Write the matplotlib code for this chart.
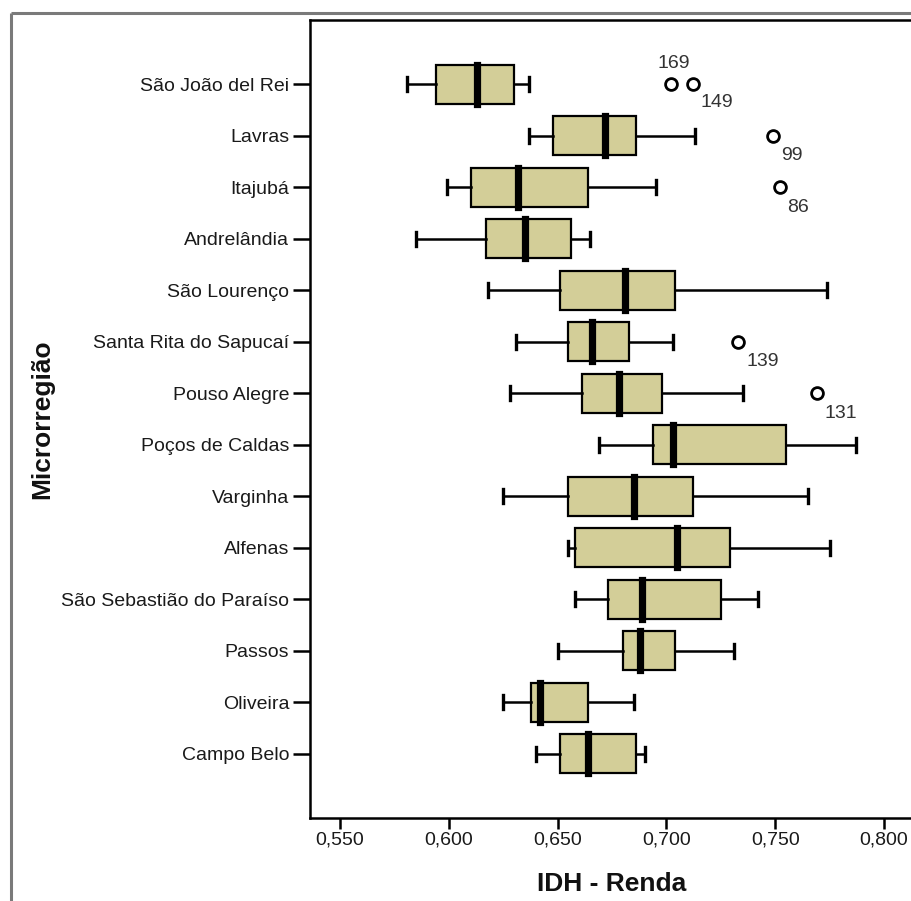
import matplotlib
matplotlib.use("Agg")
import matplotlib.pyplot as plt
from matplotlib.lines import Line2D

plt.rcParams['font.family'] = ['Liberation Sans', 'DejaVu Sans']

# ---- data ----
categories = ["São João del Rei", "Lavras", "Itajubá", "Andrelândia", "São Lourenço",
              "Santa Rita do Sapucaí", "Pouso Alegre", "Poços de Caldas", "Varginha",
              "Alfenas", "São Sebastião do Paraíso", "Passos", "Oliveira", "Campo Belo"]
whisker_low = [0.581, 0.637, 0.599, 0.585, 0.618, 0.631, 0.628, 0.669, 0.625,
               0.655, 0.658, 0.650, 0.625, 0.640]
q1 = [0.594, 0.648, 0.610, 0.617, 0.651, 0.655, 0.661, 0.694, 0.655,
      0.658, 0.673, 0.680, 0.638, 0.651]
median = [0.613, 0.672, 0.632, 0.635, 0.681, 0.666, 0.678, 0.703, 0.685,
          0.705, 0.689, 0.688, 0.642, 0.664]
q3 = [0.630, 0.686, 0.664, 0.656, 0.704, 0.683, 0.698, 0.755, 0.712,
      0.729, 0.725, 0.704, 0.664, 0.686]
whisker_high = [0.637, 0.713, 0.695, 0.665, 0.774, 0.703, 0.735, 0.787, 0.765,
                0.775, 0.742, 0.731, 0.685, 0.690]
# outliers: (category index, value, case label)
outlier_cat = [0, 0, 1, 2, 5, 6]
outlier_val = [0.702, 0.712, 0.749, 0.752, 0.733, 0.769]
outlier_lab = ["169", "149", "99", "86", "139", "131"]

xticks = [0.550, 0.600, 0.650, 0.700, 0.750, 0.800]
xtick_labels = ["0,550", "0,600", "0,650", "0,700", "0,750", "0,800"]

# ---- figure ----
W, H = 911, 901
fig = plt.figure(figsize=(W / 100, H / 100), dpi=100)
fig.patch.set_facecolor('white')

ax_left, ax_right, ax_top, ax_bottom = 310, 930, 20, 818
ax = fig.add_axes([ax_left / W, (H - ax_bottom) / H,
                   (ax_right - ax_left) / W, (ax_bottom - ax_top) / H])

positions = list(range(1, len(categories) + 1))
stats = []
for i in range(len(categories)):
    fl = [v for c, v in zip(outlier_cat, outlier_val) if c == i]
    stats.append(dict(med=median[i], q1=q1[i], q3=q3[i],
                      whislo=whisker_low[i], whishi=whisker_high[i], fliers=fl))

ax.bxp(stats, positions=positions, widths=0.76, orientation='horizontal',
       patch_artist=True, capwidths=0.27,
       boxprops=dict(facecolor='#d3ce98', edgecolor='black', linewidth=1.6),
       medianprops=dict(color='black', linewidth=5.2, solid_capstyle='projecting'),
       whiskerprops=dict(color='black', linewidth=1.8),
       capprops=dict(color='black', linewidth=2.4),
       flierprops=dict(marker='o', markerfacecolor='none', markeredgecolor='black',
                       markersize=8.5, markeredgewidth=2.0))

# outlier case labels
for c, v, lab in zip(outlier_cat, outlier_val, outlier_lab):
    y = positions[c]
    if lab == "169":
        ax.annotate(lab, (v, y), xytext=(3, 21), textcoords='offset pixels',
                    ha='center', va='center', fontsize=14, color='#333333')
    else:
        dy = -18 if lab == "149" else -20
        ax.annotate(lab, (v, y), xytext=(8, dy), textcoords='offset pixels',
                    ha='left', va='center', fontsize=14, color='#333333')

ax.set_xlim(0.55 - 30 / 2176, 0.55 - 30 / 2176 + 620 / 2176)
ax.set_ylim(15.25, -0.25)
ax.set_yticks(positions)
ax.set_yticklabels(categories)
ax.set_xticks(xticks)
ax.set_xticklabels(xtick_labels)

ax.tick_params(axis='y', length=12, width=1.8, pad=3, labelsize=14,
               labelcolor='#1a1a1a', color='black')
ax.tick_params(axis='x', length=8, width=1.8, pad=2, labelsize=14,
               labelcolor='#1a1a1a', color='black')
for s in ax.spines.values():
    s.set_linewidth(1.8)
    s.set_color('black')

ax.set_xlabel("IDH - Renda", fontsize=19, fontweight='bold', color='#111111')
ax.xaxis.set_label_coords((612 - ax_left) / (ax_right - ax_left),
                          -(872 - ax_bottom) / (ax_bottom - ax_top))
ax.set_ylabel("Microrregião", fontsize=19, fontweight='bold', color='#111111')
ax.yaxis.set_label_coords(-(ax_left - 54) / (ax_right - ax_left), 0.5)

# outer gray frame
fig.add_artist(Line2D([11 / W, 11 / W], [0, 1 - 13 / H], transform=fig.transFigure,
                      color='#7a7a7a', linewidth=2.2, solid_capstyle='butt'))
fig.add_artist(Line2D([11 / W, 1], [1 - 13 / H, 1 - 13 / H], transform=fig.transFigure,
                      color='#7a7a7a', linewidth=2.2, solid_capstyle='butt'))

fig.savefig("out.png", dpi=100)
